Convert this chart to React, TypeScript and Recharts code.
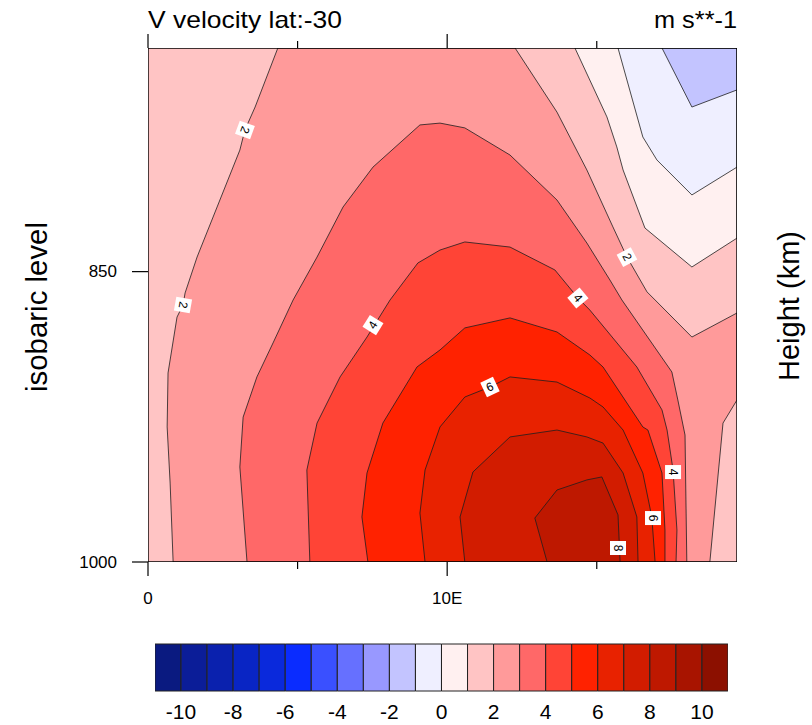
import React from "react";
import { ScatterChart, Scatter, XAxis, YAxis, BarChart, Bar, Cell } from "recharts";

const FONT = '"Liberation Sans", Arial, Helvetica, sans-serif';
const LON_MAX = 19.6875;

// colour table, one colour per interval (-11..-10 ... 10..11)
const COLORS = [
  "#0a1a80", "#0b1d98", "#0a21ae", "#0925c4", "#0a29dc", "#0a2cff",
  "#3a50ff", "#6670ff", "#9898ff", "#c3c4ff", "#efefff",
  "#fff0f0", "#ffc4c4", "#ff9a9a", "#ff6868", "#ff4436", "#ff2200",
  "#e82200", "#d21c00", "#be1800", "#a81400", "#8c1000",
];
const BAR_LEVELS = [-10.5, -9.5, -8.5, -7.5, -6.5, -5.5, -4.5, -3.5, -2.5, -1.5, -0.5,
  0.5, 1.5, 2.5, 3.5, 4.5, 5.5, 6.5, 7.5, 8.5, 9.5, 10.5];
const BAR_TICKS = [-10, -8, -6, -4, -2, 0, 2, 4, 6, 8, 10];

const LON_TICKS = [0, 5, 10, 15];
const LON_LABELS: Record<number, string> = { 0: "0", 10: "10E" };
const P_TICKS = [850, 1000];

// plot frame (lon, hPa)
const FRAME = [[0, 750], [LON_MAX, 750], [LON_MAX, 1000], [0, 1000]];

// regions above each contour level, traced as [lon, pressure]
const ABOVE_2 = [
  [0.84, 1000], [0.74, 956.8], [0.64, 927.2], [0.67, 899.6], [0.97, 871.9], [1.17, 866.0],
  [1.24, 860.2], [1.64, 843.1], [2.31, 819.8], [3.07, 794.1], [3.24, 785.2], [3.58, 775.2],
  [4.34, 750], [12.27, 750], [13.67, 777.4], [14.67, 803.0], [15.54, 829.0], [16.01, 843.1],
  [16.68, 859.7], [16.95, 863.6], [18.18, 881.7], [LON_MAX, 869.9], [LON_MAX, 913.3],
  [19.22, 925.2], [18.78, 1000],
];
const ABOVE_3 = [
  [3.31, 1000], [3.07, 948.2], [3.18, 922.1], [3.64, 901.6], [4.18, 884.6], [4.85, 863.6],
  [5.65, 843.1], [6.52, 819.8], [7.52, 801.7], [9.09, 783.0], [9.76, 782.2], [10.59, 784.3],
  [12.1, 796.3], [13.67, 816.6], [14.67, 836.5], [15.44, 854.0], [15.84, 863.6], [17.51, 899.1],
  [17.71, 913.3], [17.95, 931.4], [18.01, 1000],
];
const ABOVE_4 = [
  [5.41, 1000], [5.31, 949.8], [5.65, 925.2], [6.42, 901.6], [7.32, 881.7], [8.09, 863.6],
  [9.02, 845.9], [9.76, 839.8], [10.59, 836.0], [12.1, 838.4], [13.6, 849.2], [14.37, 862.6],
  [14.77, 868.5], [16.34, 896.6], [17.18, 918.4], [17.35, 928.8], [17.55, 949.8], [17.68, 982.3],
  [17.65, 1000],
];
const ABOVE_5 = [
  [7.35, 1000], [7.15, 975.1], [7.32, 951.4], [7.85, 925.2], [8.99, 896.6], [9.76, 888.1],
  [10.59, 877.2], [12.1, 872.3], [13.67, 879.2], [14.77, 890.6], [15.21, 896.6], [16.54, 927.2],
  [16.71, 928.8], [17.18, 951.4], [17.28, 982.3], [17.28, 1000],
];
const ABOVE_6 = [
  [9.26, 1000], [9.09, 973.0], [9.26, 949.8], [9.76, 927.2], [10.59, 911.8], [11.43, 906.7],
  [12.1, 901.6], [13.67, 904.2], [14.77, 912.3], [15.21, 916.9], [15.88, 928.8], [16.54, 951.4],
  [16.84, 975.1], [16.95, 1000],
];
const ABOVE_7 = [
  [10.59, 1000], [10.43, 975.1], [10.86, 950.9], [12.1, 932.4], [13.67, 928.8], [14.67, 932.4],
  [15.21, 935.6], [15.88, 951.4], [16.34, 975.1], [16.38, 1000],
];
const ABOVE_8 = [
  [13.34, 1000], [12.93, 975.7], [13.67, 960.5], [14.67, 955.1], [15.17, 953.5], [15.71, 974.0],
  [15.78, 1000],
];
// regions below a level, top right corner
const BELOW_1 = [
  [14.27, 750], [15.34, 779.5], [15.67, 792.7], [15.88, 803.0], [16.61, 829.5], [18.18, 847.8],
  [LON_MAX, 834.2], [LON_MAX, 750],
];
const BELOW_0 = [
  [15.71, 750], [16.54, 788.3], [17.01, 798.5], [18.18, 814.3], [LON_MAX, 801.7], [LON_MAX, 750],
];
const BELOW_M1 = [[17.18, 750], [18.18, 775.2], [LON_MAX, 767.8], [LON_MAX, 750]];

// contour line labels
const LINE_LABELS = [
  { lon: 3.24, p: 785.2, text: "2", angle: 110 },
  { lon: 1.17, p: 866.0, text: "2", angle: 100 },
  { lon: 16.01, p: 843.1, text: "2", angle: 62 },
  { lon: 7.52, p: 875.8, text: "4", angle: -58 },
  { lon: 14.37, p: 862.6, text: "4", angle: 50 },
  { lon: 17.55, p: 950.9, text: "4", angle: 90 },
  { lon: 11.43, p: 906.7, text: "6", angle: -25 },
  { lon: 16.88, p: 975.7, text: "6", angle: 90 },
  { lon: 15.71, p: 992.2, text: "8", angle: 90 },
];

const REGIONS: { pts: number[][]; color: string }[] = [
  { pts: FRAME, color: COLORS[12] },
  { pts: ABOVE_2, color: COLORS[13] },
  { pts: ABOVE_3, color: COLORS[14] },
  { pts: ABOVE_4, color: COLORS[15] },
  { pts: ABOVE_5, color: COLORS[16] },
  { pts: ABOVE_6, color: COLORS[17] },
  { pts: ABOVE_7, color: COLORS[18] },
  { pts: ABOVE_8, color: COLORS[19] },
  { pts: BELOW_1, color: COLORS[11] },
  { pts: BELOW_0, color: COLORS[10] },
  { pts: BELOW_M1, color: COLORS[9] },
];

const toPts = (a: number[][]) => a.map(([lon, p]) => ({ lon, p }));

const polygon = (fill: string, stroke: string, width: number) => (props: any) => {
  const pts = props.points || [];
  const d = pts.map((pt: any, i: number) => `${i ? "L" : "M"}${pt.x},${pt.y}`).join("") + "Z";
  return <path d={d} fill={fill} stroke={stroke} strokeWidth={width} strokeLinejoin="round" />;
};

const noDot = () => <g />;

const LineLabel = (props: any) => {
  const { cx, cy, payload } = props;
  return (
    <g transform={`translate(${cx},${cy}) rotate(${payload.angle})`}>
      <rect x={-7} y={-8} width={14} height={16} fill="#fff" />
      <text x={0} y={0} textAnchor="middle" dominantBaseline="central" fontSize={12} fontFamily={FONT} fill="#000">
        {payload.text}
      </text>
    </g>
  );
};

const BottomTick = ({ x, y, payload }: any) => {
  const major = payload.value % 10 === 0;
  return (
    <g>
      <line x1={x} x2={x} y1={y} y2={y + (major ? 14 : 7)} stroke="#000" strokeWidth={1.2} />
      {major && (
        <text x={x} y={y + 36} textAnchor="middle" dominantBaseline="central" fontSize={17} fontFamily={FONT} fill="#000">
          {LON_LABELS[payload.value]}
        </text>
      )}
    </g>
  );
};

const TopTick = ({ x, y, payload }: any) => {
  const major = payload.value % 10 === 0;
  return <line x1={x} x2={x} y1={y} y2={y - (major ? 14 : 7)} stroke="#000" strokeWidth={1.2} />;
};

const LeftTick = ({ x, y, payload }: any) => (
  <g>
    <line x1={x - 16} x2={x} y1={y} y2={y} stroke="#000" strokeWidth={1.2} />
    <text x={x - 31} y={y} textAnchor="end" dominantBaseline="central" fontSize={17} fontFamily={FONT} fill="#000">
      {payload.value}
    </text>
  </g>
);

const BarTick = ({ x, y, payload }: any) => (
  <text x={x} y={y + 20} textAnchor="middle" dominantBaseline="central" fontSize={21} fontFamily={FONT} fill="#000">
    {payload.value}
  </text>
);

export default function App() {
  const barData = BAR_LEVELS.map((x) => ({ x, v: 1 }));

  return (
    <div style={{ position: "absolute", left: 0, top: 0, width: 812, height: 725, background: "#fff" }}>
      <ScatterChart width={812} height={620} margin={{ top: 47, right: 0, bottom: 0, left: 0 }}>
        <XAxis xAxisId="b" type="number" dataKey="lon" domain={[0, LON_MAX]} ticks={LON_TICKS}
          interval={0} allowDataOverflow height={58} tickSize={0} tickMargin={0} tickLine={false}
          axisLine={false} tick={BottomTick} />
        <XAxis xAxisId="t" orientation="top" type="number" dataKey="lon" domain={[0, LON_MAX]}
          ticks={LON_TICKS} interval={0} allowDataOverflow height={1} tickSize={0} tickMargin={0}
          tickLine={false} axisLine={false} tick={TopTick} />
        <YAxis yAxisId="l" type="number" dataKey="p" scale="log" domain={[750, 1000]} reversed
          ticks={P_TICKS} interval={0} allowDataOverflow width={148} tickSize={0} tickMargin={0}
          tickLine={false} axisLine={false} tick={LeftTick} />
        <YAxis yAxisId="r" orientation="right" type="number" dataKey="p" scale="log" domain={[750, 1000]}
          reversed allowDataOverflow width={75} tick={false} tickLine={false} axisLine={false} />
        {REGIONS.map((r, i) => (
          <Scatter key={i} xAxisId="b" yAxisId="l" data={toPts(r.pts)} shape={noDot}
            line={polygon(r.color, i === 0 ? "none" : "#1e1e1e", 0.8)} isAnimationActive={false} />
        ))}
        <Scatter xAxisId="b" yAxisId="l" data={LINE_LABELS} shape={LineLabel} isAnimationActive={false} />
        <Scatter xAxisId="b" yAxisId="l" data={toPts(FRAME)} shape={noDot}
          line={polygon("none", "#000", 1.4)} isAnimationActive={false} />
      </ScatterChart>

      <div style={{ position: "absolute", left: 0, top: 630 }}>
        <BarChart width={812} height={95} data={barData} margin={{ top: 14, right: 84, bottom: 0, left: 155 }}>
          <XAxis type="number" dataKey="x" domain={[-11, 11]} ticks={BAR_TICKS} interval={0}
            allowDataOverflow height={34} tickSize={0} tickMargin={0} tickLine={false} axisLine={false}
            tick={BarTick} />
          <YAxis hide domain={[0, 1]} />
          <Bar dataKey="v" barSize={26} stroke="#222" strokeWidth={1} isAnimationActive={false}>
            {barData.map((d, i) => (
              <Cell key={i} fill={COLORS[i]} />
            ))}
          </Bar>
        </BarChart>
      </div>

      <svg width={812} height={725} style={{ position: "absolute", left: 0, top: 0, pointerEvents: "none" }}>
        <text x={148} y={28} fontSize={24} fontFamily={FONT} textLength={194} lengthAdjust="spacingAndGlyphs">
          V velocity lat:-30
        </text>
        <text x={737} y={28} fontSize={24} fontFamily={FONT} textAnchor="end" textLength={83}
          lengthAdjust="spacingAndGlyphs">
          m s**-1
        </text>
        <text transform="translate(47,307) rotate(-90)" textAnchor="middle" fontSize={29} fontFamily={FONT}
          textLength={170} lengthAdjust="spacingAndGlyphs">
          isobaric level
        </text>
        <text transform="translate(799,306) rotate(-90)" textAnchor="middle" fontSize={29} fontFamily={FONT}
          textLength={150} lengthAdjust="spacingAndGlyphs">
          Height (km)
        </text>
      </svg>
    </div>
  );
}
